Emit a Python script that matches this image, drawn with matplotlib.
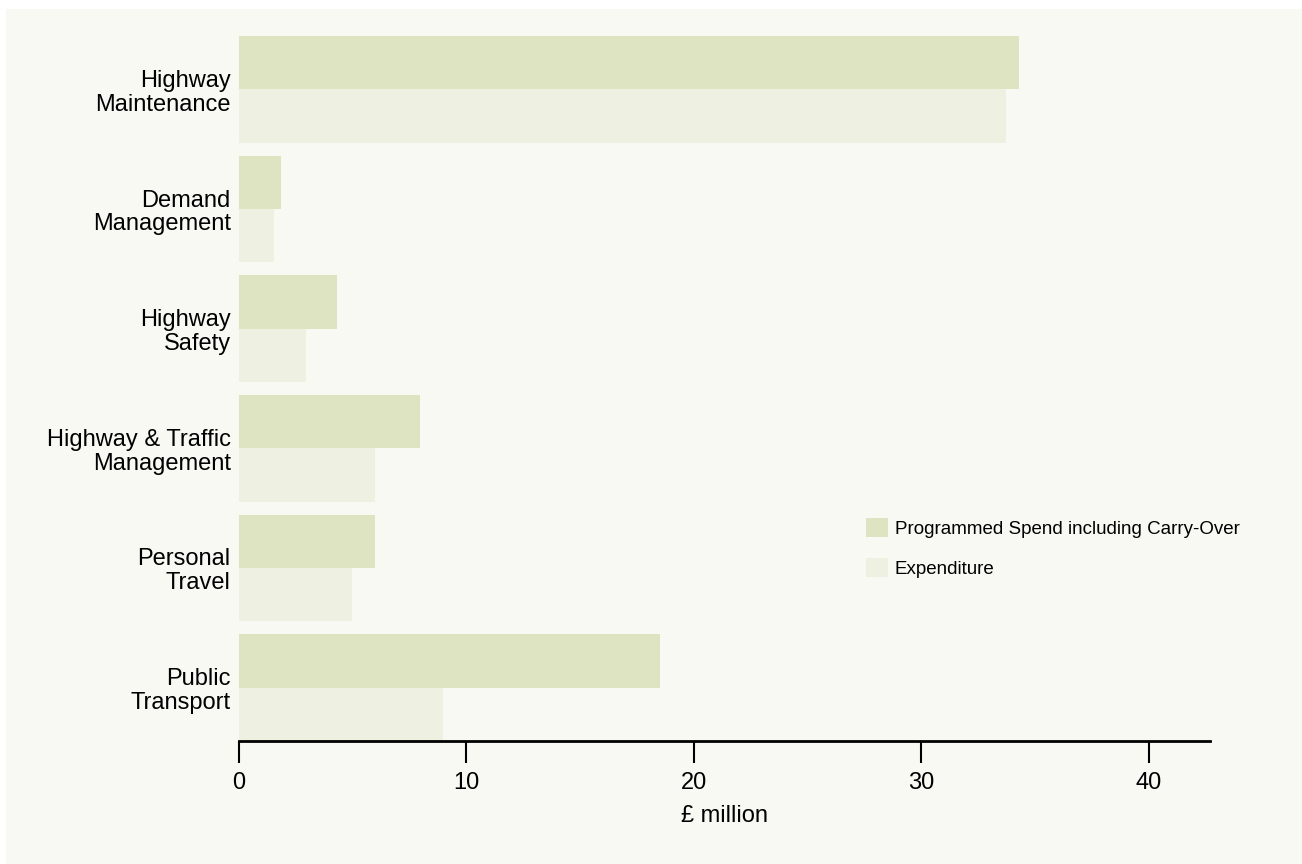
import matplotlib
matplotlib.use("Agg")
import matplotlib.pyplot as plt
from matplotlib.patches import Patch, Rectangle
import numpy as np

# Spend categories, listed bottom to top as drawn
categories = [
    "Public\nTransport",
    "Personal\nTravel",
    "Highway & Traffic\nManagement",
    "Highway\nSafety",
    "Demand\nManagement",
    "Highway\nMaintenance",
]
programmed = [18.5, 6.0, 7.95, 4.3, 1.85, 34.3]
expenditure = [8.97, 4.97, 6.0, 2.95, 1.55, 33.75]
xticks = [0, 10, 20, 30, 40]

series_names = ["Programmed Spend including Carry-Over", "Expenditure"]
c_prog = "#dee3c2"
c_exp = "#eef1e1"
bg = "#f8f9f3"

plt.rcParams["font.family"] = ["Liberation Sans", "DejaVu Sans"]

W, H = 1302, 864
fig = plt.figure(figsize=(W / 100, H / 100), dpi=100, facecolor="white")
# panel background
fig.patches.append(Rectangle((6 / W, -0.01), 1 - 6 / W + 0.01, 1.01 - 9 / H,
                             transform=fig.transFigure, facecolor=bg,
                             edgecolor="none", zorder=-10))

ax = fig.add_axes([239 / W, 1 - 741 / H, (1210 - 239) / W, (741 - 36) / H])
ax.set_facecolor(bg)
ax.patch.set_alpha(0)

y = np.arange(len(categories))
h = 0.446
ax.barh(y + h / 2, programmed, height=h, color=c_prog, linewidth=0)
ax.barh(y - h / 2, expenditure, height=h, color=c_exp, linewidth=0)

ax.set_xlim(0, 42.7)
ax.set_ylim(-h, len(categories) - 1 + h)

ax.set_yticks(y)
ax.set_yticklabels(categories, fontsize=17, linespacing=1.1)
ax.tick_params(axis="y", length=0, pad=6)

ax.set_xticks(xticks)
ax.set_xticklabels([str(t) for t in xticks], fontsize=17)
ax.tick_params(axis="x", direction="out", length=16, width=1.5, pad=6,
               colors="black")
ax.set_xlabel("£ million", fontsize=17, labelpad=8)

for s in ["top", "right", "left"]:
    ax.spines[s].set_visible(False)
ax.spines["bottom"].set_linewidth(2)
ax.spines["bottom"].set_color("black")

handles = [Patch(facecolor=c_prog, edgecolor="none"),
           Patch(facecolor=c_exp, edgecolor="none")]
fs = 13.5
fpx = fs * 100 / 72
fig.legend(handles, series_names, loc="upper left",
           bbox_to_anchor=(866 / W, 1 - 518 / H),
           frameon=False, fontsize=fs, borderpad=0, borderaxespad=0,
           handlelength=22 / fpx, handleheight=22 / fpx,
           handletextpad=7 / fpx, labelspacing=(42 - 22) / fpx)

fig.savefig("out.png", dpi=100, facecolor="white")
